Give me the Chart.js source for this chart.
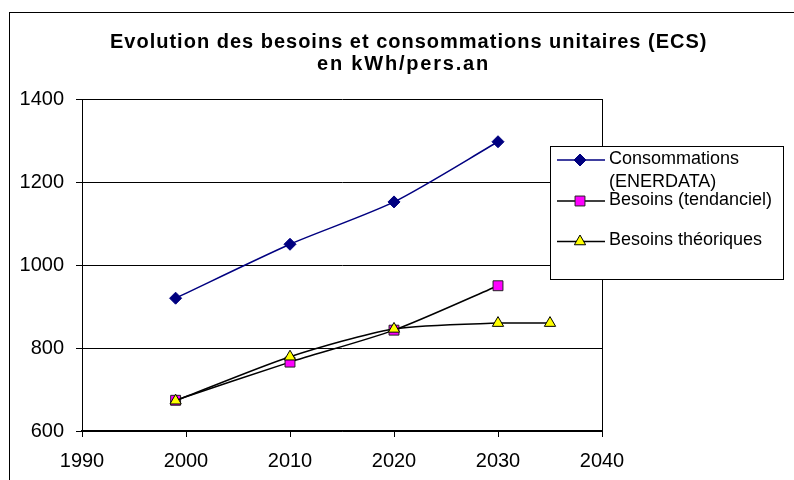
<!DOCTYPE html>
<html>
<head>
<meta charset="utf-8">
<script src="https://cdn.jsdelivr.net/npm/chart.js@4/dist/chart.umd.min.js"></script>
<style>
  html, body { margin: 0; padding: 0; background: #fff; }
  canvas { display: block; }
</style>
</head>
<body>
<canvas id="chart" width="794" height="480"></canvas>
<script>
/* ── Données (kWh/pers.an) ── */
const titleLines = ['Evolution des besoins et consommations unitaires (ECS)', 'en kWh/pers.an'];

const consYears  = [1999, 2010, 2020, 2030];
const consValues = [920, 1050, 1152, 1297];

const tendYears  = [1999, 2010, 2020, 2030];
const tendValues = [674, 766, 843, 950];

const theoYears  = [1999, 2010, 2020, 2030, 2035];
const theoValues = [673, 779, 846, 860, 860];

const legendLabels = [['Consommations', '(ENERDATA)'], ['Besoins (tendanciel)'], ['Besoins théoriques']];

const FONT = "'Liberation Sans', Arial, sans-serif";
const toPoints = (xs, ys) => xs.map((x, i) => ({ x, y: ys[i] }));

/* ── Cadre extérieur + titre ── */
const framePlugin = {
  id: 'frame',
  beforeDraw(chart) {
    const ctx = chart.ctx;
    ctx.save();
    ctx.fillStyle = '#fff';
    ctx.fillRect(0, 0, chart.width, chart.height);
    ctx.strokeStyle = '#000';
    ctx.lineWidth = 1;
    ctx.strokeRect(9.5, 12.5, chart.width + 20, chart.height + 20);

    // titre sur deux lignes, un peu espacé comme dans Excel
    ctx.fillStyle = '#000';
    ctx.font = `bold 20px ${FONT}`;
    ctx.textBaseline = 'middle';
    ctx.textAlign = 'left';
    ctx.letterSpacing = '1px';
    ctx.fillText(titleLines[0], 110, 42);
    ctx.letterSpacing = '1.8px';
    ctx.fillText(titleLines[1], 317, 64);
    ctx.letterSpacing = '0px';
    ctx.restore();
  }
};

/* ── Légende encadrée à droite ── */
const boxLegend = {
  id: 'boxLegend',
  afterDraw(chart) {
    const ctx = chart.ctx;
    const box = { x: 550.5, y: 146.5, w: 233, h: 133 };
    const rows = [160, 201, 241.5];
    ctx.save();
    ctx.fillStyle = '#fff';
    ctx.fillRect(box.x, box.y, box.w, box.h);
    ctx.strokeStyle = '#000';
    ctx.lineWidth = 1;
    ctx.strokeRect(box.x, box.y, box.w, box.h);

    chart.data.datasets.forEach((ds, i) => {
      const y = rows[i];
      ctx.strokeStyle = ds.borderColor;
      ctx.lineWidth = ds.borderWidth;
      ctx.beginPath();
      ctx.moveTo(557, y);
      ctx.lineTo(605, y);
      ctx.stroke();

      ctx.fillStyle = ds.pointBackgroundColor;
      ctx.strokeStyle = ds.pointBorderColor;
      ctx.lineWidth = 1;
      Chart.helpers.drawPoint(ctx, {
        pointStyle: ds.pointStyle, radius: ds.pointRadius, rotation: 0, borderWidth: 1
      }, 580, y);

      ctx.fillStyle = '#000';
      ctx.font = `18px ${FONT}`;
      ctx.textBaseline = 'middle';
      ctx.textAlign = 'left';
      legendLabels[i].forEach((t, k) => ctx.fillText(t, 609, y - 1 + k * 23));
    });
    ctx.restore();
  }
};

new Chart(document.getElementById('chart'), {
  type: 'line',
  data: {
    datasets: [
      {
        label: 'Consommations (ENERDATA)',
        data: toPoints(consYears, consValues),
        borderColor: '#000080', borderWidth: 1.5,
        pointStyle: 'rectRot', pointRadius: 6,
        pointBackgroundColor: '#000080', pointBorderColor: '#000080', pointBorderWidth: 1,
        tension: 0.25, order: 2,
      },
      {
        label: 'Besoins (tendanciel)',
        data: toPoints(tendYears, tendValues),
        borderColor: '#000', borderWidth: 1.5,
        pointStyle: 'rect', pointRadius: 7,
        pointBackgroundColor: '#ff00ff', pointBorderColor: '#222', pointBorderWidth: 1,
        tension: 0.25, order: 1,
      },
      {
        label: 'Besoins théoriques',
        data: toPoints(theoYears, theoValues),
        borderColor: '#000', borderWidth: 1.5,
        pointStyle: 'triangle', pointRadius: 6.5,
        pointBackgroundColor: '#ffff00', pointBorderColor: '#000', pointBorderWidth: 1,
        tension: 0.25, order: 0,
      },
    ],
  },
  options: {
    responsive: false,
    animation: false,
    layout: { padding: { left: 9, right: 0, top: 99, bottom: 0 } },
    plugins: {
      legend: { display: false },
      tooltip: { enabled: false },
      title: { display: false },
    },
    scales: {
      x: {
        type: 'linear', position: 'bottom',
        min: 1990, max: 2040,
        afterFit: s => { s.height = 49; },
        ticks: { stepSize: 10, color: '#000', padding: 12, font: { family: FONT, size: 20 }, callback: v => String(v) },
        grid: { drawOnChartArea: false, drawTicks: true, tickLength: 6, color: '#000' },
        border: { display: true, color: '#000', width: 1.5 },
      },
      y: {
        position: 'left',
        min: 600, max: 1400,
        afterFit: s => { s.width = 73; },
        ticks: { stepSize: 200, color: '#000', padding: 12, font: { family: FONT, size: 20 }, callback: v => String(v) },
        grid: { color: '#000', tickLength: 6 },
        border: { display: true, color: '#000', width: 1 },
      },
      y2: {
        position: 'right',
        min: 600, max: 1400,
        afterFit: s => { s.width = 192; },
        ticks: { display: false },
        grid: { display: false },
        border: { display: true, color: '#000', width: 1 },
      },
    },
  },
  plugins: [framePlugin, boxLegend],
});
</script>
</body>
</html>
